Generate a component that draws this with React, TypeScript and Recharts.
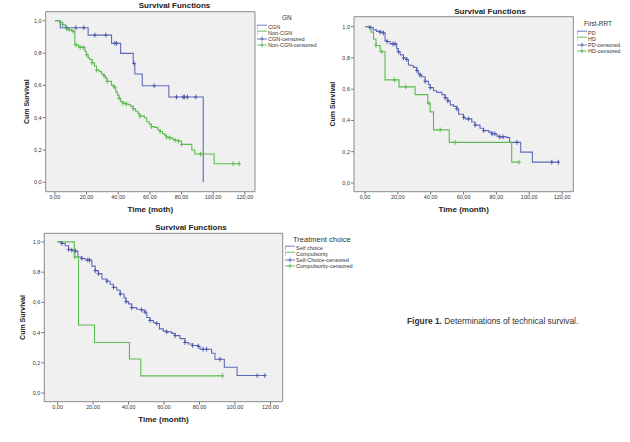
import React from "react";
import {
  ComposedChart,
  Line,
  XAxis,
  YAxis,
  ReferenceArea,
} from "recharts";

// Kaplan-Meier rows: [time in months, cumulative survival, censored flag]
type Row = [number, number, number];

const xTicks = [0, 20, 40, 60, 80, 100, 120];
const yTicks = [0, 0.2, 0.4, 0.6, 0.8, 1.0];

// GN
const cgn: Row[] = [
  [0, 1, 0], [3.4, 0.957, 0], [7.4, 0.957, 1], [13.3, 0.957, 1], [18.3, 0.957, 1],
  [21, 0.911, 0], [25.3, 0.911, 1], [32.2, 0.911, 1], [35.8, 0.86, 0], [37.9, 0.86, 1],
  [39, 0.86, 1], [41.5, 0.798, 0], [49.5, 0.735, 0], [50, 0.735, 1], [50.5, 0.67, 0],
  [55.2, 0.598, 0], [62.7, 0.598, 1], [72, 0.528, 0], [76.8, 0.528, 1], [81, 0.528, 1],
  [82, 0.528, 1], [83.8, 0.528, 1], [89, 0.528, 1], [93.7, 0, 0],
];
const nonCgn: Row[] = [
  [0, 1, 0], [3, 0.99, 0], [5, 0.975, 1], [6.5, 0.96, 0], [7.5, 0.95, 1], [9, 0.945, 1],
  [10.5, 0.94, 0], [11.5, 0.935, 1], [12.6, 0.85, 0], [13.5, 0.85, 1], [15, 0.84, 0],
  [16, 0.835, 1], [18, 0.835, 1], [19, 0.81, 0], [20, 0.79, 1], [21, 0.77, 0], [22, 0.76, 0],
  [23.5, 0.74, 1], [25, 0.72, 0], [26.3, 0.695, 1], [28, 0.685, 0], [29.5, 0.67, 0],
  [31, 0.66, 1], [32, 0.645, 0], [33, 0.625, 1], [35.8, 0.6, 0], [37.5, 0.59, 1],
  [38.5, 0.56, 0], [39.5, 0.54, 0], [40.5, 0.52, 1], [41.5, 0.5, 0], [43, 0.49, 1],
  [45, 0.485, 1], [46.5, 0.48, 0], [48, 0.47, 0], [49.5, 0.455, 1], [51, 0.44, 0],
  [52.5, 0.425, 0], [53.7, 0.41, 1], [56.5, 0.4, 0], [58, 0.375, 0], [59.5, 0.36, 0],
  [61, 0.345, 1], [63, 0.34, 0], [65, 0.325, 0], [66.5, 0.315, 1], [68, 0.3, 0],
  [69.5, 0.29, 0], [70.5, 0.28, 1], [72.5, 0.275, 1], [74.5, 0.265, 0], [76, 0.26, 1],
  [78, 0.255, 1], [80, 0.235, 1], [85, 0.235, 0], [86.5, 0.2, 0], [88.3, 0.175, 0],
  [92, 0.175, 1], [100.6, 0.115, 0], [112.6, 0.115, 1], [116.4, 0.115, 1],
];

// First-RRT
const pd: Row[] = [
  [0, 1, 0], [3, 0.995, 1], [5, 0.98, 0], [7, 0.97, 0], [9.2, 0.965, 1], [11.2, 0.96, 1],
  [12.2, 0.91, 0], [13.5, 0.905, 1], [15.3, 0.89, 0], [17, 0.89, 1], [18.3, 0.89, 1],
  [19.3, 0.86, 0], [20.3, 0.84, 1], [21.4, 0.82, 0], [23.4, 0.8, 1], [25.4, 0.79, 1],
  [26.4, 0.755, 0], [28, 0.75, 0], [29.5, 0.74, 0], [31.5, 0.72, 1], [32.5, 0.7, 0],
  [33.5, 0.69, 1], [34.6, 0.68, 0], [36.6, 0.65, 1], [38.6, 0.63, 0], [39.7, 0.61, 1],
  [41.7, 0.59, 0], [43.7, 0.58, 0], [46.8, 0.565, 0], [48.8, 0.545, 1], [50.4, 0.525, 1],
  [51.9, 0.5, 0], [53.9, 0.49, 0], [55.9, 0.475, 1], [57, 0.44, 0], [60, 0.42, 1],
  [61, 0.41, 0], [63, 0.41, 1], [65, 0.39, 0], [67, 0.37, 1], [70, 0.35, 0],
  [72.2, 0.335, 1], [75.3, 0.325, 0], [77.3, 0.315, 1], [79, 0.315, 1], [80.3, 0.3, 0],
  [82, 0.295, 1], [84, 0.295, 1], [86.4, 0.29, 0], [88, 0.26, 0], [92.5, 0.26, 1],
  [94.8, 0.197, 0], [101.9, 0.133, 0], [113.7, 0.133, 1], [117.7, 0.133, 1],
];
const hd: Row[] = [
  [0, 1, 0], [3.7, 0.965, 0], [5.2, 0.92, 0], [6.7, 0.88, 1], [9.2, 0.84, 0],
  [10.2, 0.84, 1], [12.2, 0.66, 0], [17.9, 0.66, 1], [20.7, 0.615, 0], [24.8, 0.615, 1],
  [30.5, 0.565, 0], [38.2, 0.51, 0], [38.8, 0.51, 1], [39.7, 0.455, 0], [41.7, 0.34, 0],
  [45.8, 0.34, 1], [51.3, 0.26, 0], [54.9, 0.26, 1], [89.3, 0.133, 0], [93.8, 0.133, 1],
];

// Treatment choice
const selfChoice: Row[] = [
  [0, 1, 0], [2.4, 0.99, 1], [4.3, 0.975, 0], [6.2, 0.95, 1], [8, 0.945, 1], [10, 0.94, 1],
  [11.4, 0.9, 0], [13.7, 0.89, 1], [15.6, 0.88, 0], [17, 0.88, 1], [18, 0.88, 1],
  [19.3, 0.84, 0], [21.2, 0.81, 1], [23, 0.79, 1], [25, 0.755, 0], [27.8, 0.74, 1],
  [29.6, 0.72, 0], [31.5, 0.7, 1], [33.4, 0.68, 0], [35.3, 0.655, 1], [37.5, 0.63, 0],
  [38.6, 0.605, 1], [40, 0.59, 0], [41.8, 0.565, 1], [44.6, 0.555, 0], [47.4, 0.55, 1],
  [49.3, 0.535, 1], [50.3, 0.5, 0], [52.1, 0.48, 1], [54, 0.465, 0], [55.9, 0.46, 1],
  [57.4, 0.425, 0], [59.6, 0.41, 0], [61.5, 0.405, 1], [64.3, 0.395, 0], [66.2, 0.38, 1],
  [69, 0.36, 0], [71.8, 0.335, 1], [73.7, 0.325, 0], [76.1, 0.315, 1], [79.3, 0.31, 1],
  [80.3, 0.29, 0], [82, 0.29, 1], [84, 0.29, 1], [86.8, 0.264, 0], [88.7, 0.224, 0],
  [91.5, 0.224, 1], [94, 0.171, 0], [101.2, 0.116, 0], [112.5, 0.116, 1], [116.8, 0.116, 1],
];
const compulsority: Row[] = [
  [0, 1, 0], [9.4, 0.9, 0], [9.8, 0.9, 1], [11.8, 0.45, 0], [20.8, 0.335, 0],
  [40.5, 0.225, 0], [46.9, 0.114, 0], [93, 0.114, 1],
];

const BLUE = "#5f69bb";
const BLUE_MARK = "#4552a8";
const GREEN = "#5cba50";
const FONT = "'Liberation Sans', Arial, sans-serif";

const toPoints = (rows: Row[]) => rows.map(([t, s, c]) => ({ t, s, c }));
const fmtY = (v: number) => v.toFixed(1).replace(".", ",");
const fmtX = (v: number) => v.toFixed(2).replace(".", ",");

// small "+" drawn only on censored observations
const censorDot = (color: string) => (props: any) => {
  const { cx, cy, payload, index } = props;
  if (!payload || !payload.c || cx == null || cy == null) return <g key={`d${index}`} />;
  return (
    <path
      key={`d${index}`}
      d={`M${cx} ${cy - 2.4}V${cy + 2.4}M${cx - 1.8} ${cy}H${cx + 1.8}`}
      stroke={color}
      strokeWidth={0.9}
      fill="none"
    />
  );
};

interface PanelProps {
  left: number;
  top: number;
  width: number;
  height: number;
  margin: { top: number; right: number; bottom: number; left: number };
  xDomain: [number, number];
  yDomain: [number, number];
  xLabel: string;
  yLabelOffset: number;
  blue: Row[];
  green: Row[];
}

const tickStyle = { fontSize: 5.5, fill: "#333", fontFamily: FONT };

const Panel: React.FC<PanelProps> = (p) => (
  <div style={{ position: "absolute", left: p.left, top: p.top }}>
    <ComposedChart width={p.width} height={p.height} margin={p.margin}>
      <XAxis
        type="number"
        dataKey="t"
        domain={p.xDomain}
        ticks={xTicks}
        allowDataOverflow
        axisLine={false}
        tickLine={{ stroke: "#777" }}
        tickSize={3}
        tickMargin={0}
        tick={tickStyle}
        tickFormatter={fmtX}
        height={20}
        label={{
          value: p.xLabel,
          position: "insideBottom",
          offset: 0,
          style: { fontSize: 8, fontWeight: "bold", fill: "#222", fontFamily: FONT, whiteSpace: "pre" },
        }}
      />
      <YAxis
        type="number"
        domain={p.yDomain}
        ticks={yTicks}
        allowDataOverflow
        axisLine={false}
        tickLine={{ stroke: "#777" }}
        tickSize={3}
        tickMargin={1}
        tick={tickStyle}
        tickFormatter={fmtY}
        width={30}
        label={{
          value: "Cum Survival",
          angle: -90,
          position: "insideLeft",
          offset: p.yLabelOffset,
          style: { fontSize: 7, fontWeight: "bold", fill: "#222", fontFamily: FONT, textAnchor: "middle" },
        }}
      />
      <ReferenceArea
        x1={p.xDomain[0]}
        x2={p.xDomain[1]}
        y1={p.yDomain[0]}
        y2={p.yDomain[1]}
        fill="#f0f0f0"
        fillOpacity={1}
        stroke="#8a8a8a"
        strokeWidth={1}
      />
      <Line
        data={toPoints(p.blue)}
        dataKey="s"
        type="stepAfter"
        stroke={BLUE}
        strokeWidth={1.1}
        dot={censorDot(BLUE_MARK)}
        activeDot={false}
        isAnimationActive={false}
      />
      <Line
        data={toPoints(p.green)}
        dataKey="s"
        type="stepAfter"
        stroke={GREEN}
        strokeWidth={1.1}
        dot={censorDot(GREEN)}
        activeDot={false}
        isAnimationActive={false}
      />
    </ComposedChart>
  </div>
);

const LineIcon: React.FC<{ color: string; censored?: boolean }> = ({ color, censored }) => (
  <svg width={10} height={6} style={{ marginRight: 1, flexShrink: 0 }}>
    {censored ? (
      <path d="M0 3H10M5 0.6V5.4M3.4 3H6.6" stroke={color} strokeWidth={0.9} fill="none" />
    ) : (
      <path d="M0 5V1.2H10" stroke={color} strokeWidth={0.9} fill="none" />
    )}
  </svg>
);

interface LegendProps {
  left: number;
  top: number;
  title: string;
  titleSize: number;
  titleIndent: number;
  items: string[];
}

const KmLegend: React.FC<LegendProps> = ({ left, top, title, titleSize, titleIndent, items }) => (
  <div style={{ position: "absolute", left, top, fontFamily: FONT, color: "#333" }}>
    <div style={{ fontSize: titleSize, marginLeft: titleIndent, lineHeight: "9px", marginBottom: 1.5 }}>
      {title}
    </div>
    {items.map((label, i) => (
      <div key={label} style={{ display: "flex", alignItems: "center", height: 6, fontSize: 5.5 }}>
        <LineIcon color={i % 2 === 0 ? BLUE : GREEN} censored={i > 1} />
        <span>{label}</span>
      </div>
    ))}
  </div>
);

const Title: React.FC<{ cx: number; cy: number }> = ({ cx, cy }) => (
  <div
    style={{
      position: "absolute",
      left: cx - 60,
      top: cy - 6,
      width: 120,
      textAlign: "center",
      fontFamily: FONT,
      fontWeight: "bold",
      fontSize: 8,
      lineHeight: "12px",
      color: "#222",
    }}
  >
    Survival Functions
  </div>
);

export default function App() {
  return (
    <div
      style={{
        position: "absolute",
        left: 0,
        top: 0,
        width: 630,
        height: 442,
        background: "#fff",
        overflow: "hidden",
      }}
    >
      <Panel
        left={0}
        top={0}
        width={320}
        height={215}
        margin={{ top: 11.7, right: 65, bottom: 3.3, left: 15.7 }}
        xDomain={[-5.8, 126.4]}
        yDomain={[-0.058, 1.056]}
        xLabel="Time (moth)"
        yLabelOffset={11.3}
        blue={cgn}
        green={nonCgn}
      />
      <Title cx={174.5} cy={6} />
      <KmLegend
        left={257}
        top={13}
        title="GN"
        titleSize={6.5}
        titleIndent={25}
        items={["CGN", "Non-CGN", "CGN-censored", "Non-CGN-censored"]}
      />

      <Panel
        left={315}
        top={0}
        width={315}
        height={215}
        margin={{ top: 16.7, right: 56.7, bottom: 3.3, left: 9 }}
        xDomain={[-6.7, 126.8]}
        yDomain={[-0.056, 1.064]}
        xLabel="Time  (month)"
        yLabelOffset={9}
        blue={pd}
        green={hd}
      />
      <Title cx={490} cy={12} />
      <KmLegend
        left={577}
        top={19}
        title="First-RRT"
        titleSize={6.5}
        titleIndent={7}
        items={["PD", "HD", "PD-censored", "HD-censored"]}
      />

      <Panel
        left={0}
        top={215}
        width={380}
        height={227}
        margin={{ top: 18.3, right: 97.3, bottom: 20.3, left: 14.3 }}
        xDomain={[-7.5, 126.9]}
        yDomain={[-0.057, 1.057]}
        xLabel="Time (month)"
        yLabelOffset={8.7}
        blue={selfChoice}
        green={compulsority}
      />
      <Title cx={191} cy={228} />
      <KmLegend
        left={285}
        top={234.5}
        title="Treatment choice"
        titleSize={7.5}
        titleIndent={8}
        items={["Self choice", "Compulsority", "Self-Choice-censored", "Compulsority-censored"]}
      />

      <div
        style={{
          position: "absolute",
          left: 407,
          top: 316,
          fontFamily: FONT,
          fontSize: 8.4,
          lineHeight: "10px",
          color: "#333",
          whiteSpace: "nowrap",
        }}
      >
        <b>Figure 1.</b> Determinations of technical survival.
      </div>
    </div>
  );
}
